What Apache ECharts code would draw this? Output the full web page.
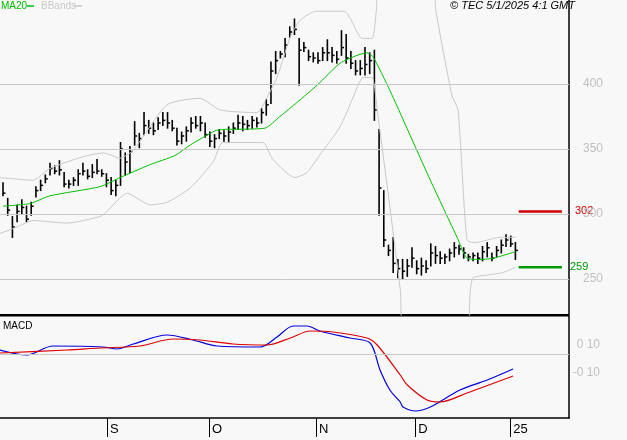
<!DOCTYPE html>
<html><head><meta charset="utf-8">
<script src="https://cdn.jsdelivr.net/npm/echarts@6/dist/echarts.min.js"></script>
<style>html,body{margin:0;padding:0;background:#f8f8f8}#c{width:627px;height:440px}</style>
</head><body><div id="c"></div>
<script>
const highs=[324,312,298,307,311,306,309,321,326,330,339,337,341,332,326,328,334,339,334,338,342,334,331,
328,326,355,347,352,371,362,378,372,370,374,378,378,372,366,363,367,374,375,375,370,
363,361,365,364,367,370,376,375,372,375,374,381,388,417,425,425,435,444,450,435,432,
426,424,424,428,434,428,425,441,438,425,418,418,428,424,426,365,318,276,282,265,265,265,274,264,266,264,277,275,271,269,273,278,276,274,269,270,270,275,278,270,275,280,284,283,278];
const lows=[314,299,282,294,300,294,299,313,318,324,330,331,330,321,320,322,322,330,327,328,331,329,321,
315,314,322,330,332,353,351,361,362,361,365,368,366,364,353,354,356,363,366,364,359,
352,351,358,356,355,362,365,364,365,366,367,370,376,385,408,420,421,436,438,399,425,
418,417,416,418,418,417,416,422,416,412,407,407,407,408,372,299,275,268,255,251,250,252,259,254,253,255,260,262,262,262,264,267,269,266,264,264,262,264,267,264,267,270,275,275,265];
const closes=[316,303,290,302,305,296,306,318,322,327,335,333,334,323,323,326,331,333,329,332,333,331,326,
318,322,350,340,348,360,358,368,366,364,370,372,370,366,356,360,364,370,368,370,361,
356,358,362,360,363,366,370,369,368,372,370,378,384,410,418,423,430,440,442,426,428,
421,420,418,424,424,422,419,428,420,416,410,412,415,418,380,320,280,272,262,258,256,260,266,258,260,258,270,268,266,267,270,274,273,270,267,268,266,271,274,266,272,276,280,277,272];
const ma20=[[0,306],[5.7,308],[10,314],[20.6,321],[24.9,328],[31.3,338],[36.6,345],[39.8,353],[45.1,364],[46.8,365],[55.7,366],[58.9,375],[62.6,386],[66.8,399],[71.7,416],[75.3,422],[77.4,424],[78.7,421],[82.3,395],[90.9,326],[96.6,282],[98.7,266],[101.5,265],[104.3,266],[109,271]];
const bbUpper=[[-0.7,328],[6.4,326],[10,335],[17,344],[21.3,347],[24.9,343],[27.7,349],[34.9,384],[41.9,389],[46.2,380],[54,378],[56.2,390],[58.3,405],[61.1,436],[63.2,449],[66.6,456],[72.6,456],[76.4,435],[78.5,435],[79.4,456],[80.2,490],[90.9,490],[92.1,456],[95.5,391],[96.8,380],[98.7,280],[100.4,278],[105.7,282],[109,282]];
const bbLower=[[-0.7,285],[3,290],[6.4,295],[13.6,293],[20.6,298],[22.1,302],[26.4,316],[31.3,307],[34.9,309],[39.8,320],[44.7,340],[46.8,355],[55.3,355],[57.4,342],[62.1,328],[64.7,332],[68.1,349],[71.7,367],[74.5,390],[76.6,405],[78.5,405],[79.6,380],[84.5,242],[85.5,200],[98.3,200],[99.4,241],[100,251],[103,253],[106.4,255],[109,259]];
const macd=[[-0.7,4],[5.1,-1],[10.6,8],[21.3,7],[24.3,5],[27.7,10],[34.9,19],[40.4,14],[45.5,8],[54.7,7],[58.3,17],[61.7,28],[64.7,28],[67.4,23],[73.8,16],[78.1,11],[80.2,-16],[82.3,-36],[84.5,-48],[85.1,-53],[87.7,-57],[90.9,-53],[97.2,-36],[103,-26],[108.5,-15]];
const signal=[[-0.7,1],[13.6,4],[20.6,6],[29.1,8],[36.2,15],[41.9,14],[48.9,10],[56.2,9],[61.1,16],[65.3,23],[70.2,22],[77.4,16],[79.6,9],[84.5,-21],[86,-31],[90.2,-46],[93,-48],[98.7,-39],[108.5,-22]];
const priceTicks=[250,300,350,400];
const monthTicks=[22.1,43.8,66.6,87.7,107.9];
const monthLabels=['S','O','N','D','25'];
const lastHigh=302, lastLow=259;

const ohlc=highs.map((h,i)=>[i,h,lows[i],closes[i]]);
const chart=echarts.init(document.getElementById('c'));
const gridCol='#c8c8c8';
chart.setOption({
 animation:false,backgroundColor:'#f8f8f8',
 grid:[{left:0,right:58,top:0,height:315},{left:0,right:58,top:316,height:102}],
 xAxis:[
  {type:'value',gridIndex:0,min:-0.64,max:120.4,show:false},
  {type:'value',gridIndex:1,min:-0.64,max:120.4,axisLine:{show:true,onZero:false,lineStyle:{color:'#000',width:1.5}},splitLine:{show:false},
   axisTick:{show:true,customValues:monthTicks,length:19,inside:false,lineStyle:{color:'#000',width:1}},
   axisLabel:{customValues:monthTicks,formatter:v=>monthLabels[monthTicks.indexOf(v)]??'',align:'left',padding:[0,0,0,3],margin:5,verticalAlign:'top',color:'#000',fontSize:13,fontFamily:'Liberation Sans'}}
 ],
 yAxis:[
  {type:'value',gridIndex:0,min:222.3,max:464.6,position:'right',splitLine:{show:false},axisTick:{show:false},
   axisLine:{show:true,onZero:false,lineStyle:{color:'#000',width:1.5}},
   axisLabel:{customValues:priceTicks,margin:14,color:'#c0c0c0',fontSize:12,fontFamily:'Liberation Sans'}},
  {type:'value',gridIndex:1,min:-64,max:38,position:'right',splitLine:{show:false},axisTick:{show:false},axisLabel:{show:false},
   axisLine:{show:true,onZero:false,lineStyle:{color:'#000',width:1.5}}}
 ],
 series:[
  {type:'line',xAxisIndex:0,yAxisIndex:0,data:[],silent:true,
   markLine:{symbol:'none',silent:true,label:{show:false},lineStyle:{color:gridCol,type:'solid',width:1},data:priceTicks.map(v=>({yAxis:v}))}},
  {type:'line',xAxisIndex:1,yAxisIndex:1,data:[],silent:true,
   markLine:{symbol:'none',silent:true,label:{show:false},lineStyle:{color:gridCol,type:'solid',width:1},data:[{yAxis:0}]}},
  {name:'BBU',type:'line',data:bbUpper,showSymbol:false,smooth:0.2,lineStyle:{color:'#c8c8c8',width:1},clip:true},
  {name:'BBL',type:'line',data:bbLower,showSymbol:false,smooth:0.2,lineStyle:{color:'#c8c8c8',width:1},clip:true},
  {name:'MA20',type:'line',data:ma20,showSymbol:false,smooth:0.2,lineStyle:{color:'#00c000',width:1}},
  {type:'custom',data:ohlc,clip:true,renderItem:(p,api)=>{
    const x=api.value(0);const hi=api.coord([x,api.value(1)]);const lo=api.coord([x,api.value(2)]);const c=api.coord([x,api.value(3)]);
    return {type:'group',children:[
     {type:'line',shape:{x1:hi[0],y1:hi[1]-0.5,x2:lo[0],y2:lo[1]+0.5},style:{stroke:'#000',lineWidth:1.6}},
     {type:'line',shape:{x1:c[0],y1:c[1],x2:c[0]+2.5,y2:c[1]},style:{stroke:'#000',lineWidth:1.5}}]};
  }},
  {type:'line',data:[[109.7,lastHigh],[118.9,lastHigh]],showSymbol:false,lineStyle:{color:'#cc0000',width:2.5}},
  {type:'line',data:[[109.7,lastLow],[118.9,lastLow]],showSymbol:false,lineStyle:{color:'#009900',width:2.5}},
  {type:'line',xAxisIndex:1,yAxisIndex:1,data:macd,showSymbol:false,smooth:0.3,lineStyle:{color:'#0000dd',width:1.2}},
  {type:'line',xAxisIndex:1,yAxisIndex:1,data:signal,showSymbol:false,smooth:0.3,lineStyle:{color:'#dd0000',width:1.2}}
 ],
 graphic:[
  {type:'rect',shape:{x:0,y:314,width:569,height:2.5},style:{fill:'#000'}},
  {type:'text',left:1,top:1,style:{text:'MA20',fill:'#00bb00',font:'10px Liberation Sans'}},
  {type:'line',shape:{x1:27,y1:6,x2:34,y2:6},style:{stroke:'#00bb00',lineWidth:1.5}},
  {type:'text',left:41,top:1,style:{text:'BBands',fill:'#c8c8c8',font:'10px Liberation Sans'}},
  {type:'line',shape:{x1:74,y1:6,x2:82,y2:6},style:{stroke:'#c8c8c8',lineWidth:1.5}},
  {type:'text',right:52,top:0,style:{text:'© TEC 5/1/2025 4:1 GMT',fill:'#000',font:'italic 11px Liberation Sans'}},
  {type:'text',left:3,top:321,style:{text:'MACD',fill:'#000',font:'10px Liberation Sans'}},
  {type:'text',x:575,y:205,style:{text:String(lastHigh),fill:'#cc0000',font:'11px Liberation Sans'}},
  {type:'text',x:570,y:261,style:{text:String(lastLow),fill:'#009900',font:'11px Liberation Sans'}},
  {type:'text',right:27,top:339,style:{text:'0 10',fill:'#c0c0c0',font:'12px Liberation Sans'}},
  {type:'text',right:27,top:367,style:{text:'-0 10',fill:'#c0c0c0',font:'12px Liberation Sans'}}
 ]
});
</script></body></html>
